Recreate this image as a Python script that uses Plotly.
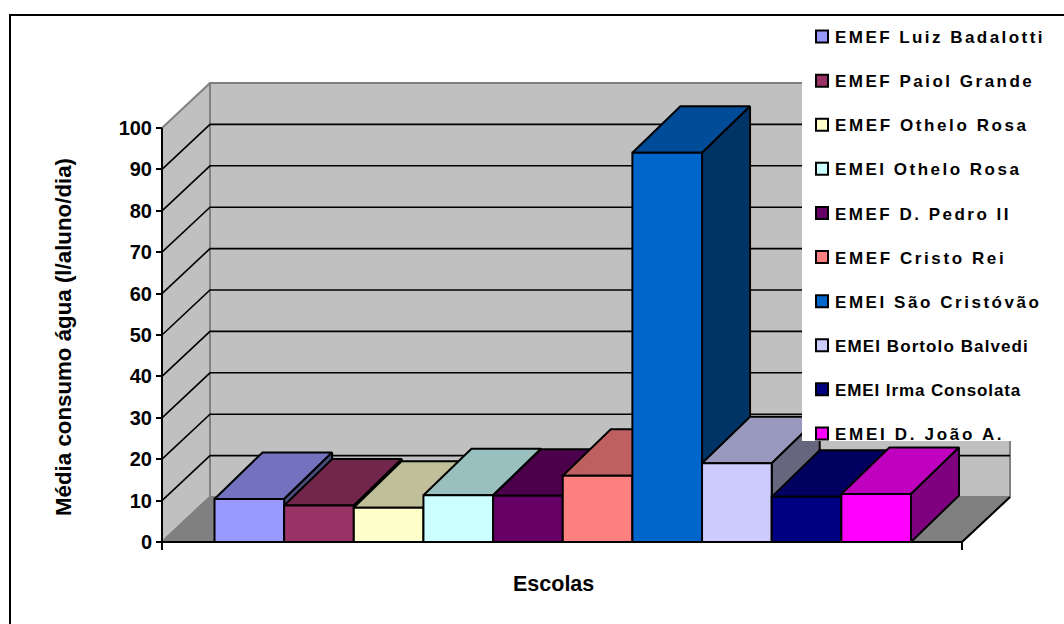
import plotly.graph_objects as go

escolas = ["EMEF Luiz Badalotti", "EMEF Paiol Grande", "EMEF Othelo Rosa", "EMEI Othelo Rosa",
           "EMEF D. Pedro II", "EMEF Cristo Rei", "EMEI São Cristóvão", "EMEI Bortolo Balvedi",
           "EMEI Irma Consolata", "EMEI D. João A."]
consumo = [10.4, 8.8, 8.3, 11.3, 11.2, 16.0, 94.0, 19.0, 10.9, 11.6]
cores = ["#9999FF", "#993366", "#FFFFCC", "#CCFFFF", "#660066", "#FF8080", "#0066CC", "#CCCCFF", "#000080", "#FF00FF"]
y_ticks = [0, 10, 20, 30, 40, 50, 60, 70, 80, 90, 100]

W, H = 1064, 624
PX_X0, PX_BAR = 214.5, 69.65      # pixel of first bar edge, bar width
PX_Y0, PX_UNIT = 542.0, 4.14      # pixel of value 0, pixels per value unit
x_range = [(0 - PX_X0) / PX_BAR, (W - PX_X0) / PX_BAR]
y_range = [(PX_Y0 - H) / PX_UNIT, PX_Y0 / PX_UNIT]

def X(px):
    return (px - PX_X0) / PX_BAR

AX_L, AX_R = X(162), X(962)       # front edge of floor
WALL_DX, WALL_DY = 48 / PX_BAR, 45 / PX_UNIT
BAR_DX, BAR_DY = 48 / PX_BAR, 46.5 / PX_UNIT

def shade(c, f):
    r, g, b = int(c[1:3], 16), int(c[3:5], 16), int(c[5:7], 16)
    return f"rgb({int(r*f)},{int(g*f)},{int(b*f)})"

def poly(xs, ys, fill, line="#000000", w=2):
    return go.Scatter(x=xs, y=ys, mode="lines", fill="toself", fillcolor=fill,
                      line=dict(color=line, width=w), showlegend=False, hoverinfo="skip")

def seg(xs, ys, color, w=2):
    return go.Scatter(x=xs, y=ys, mode="lines", line=dict(color=color, width=w),
                      showlegend=False, hoverinfo="skip")

fig = go.Figure()

# real bars carry the legend; the 3D faces below are drawn over them
for i, (n, v, c) in enumerate(zip(escolas, consumo, cores)):
    fig.add_trace(go.Bar(x=[i], y=[v], width=1, offset=0, name=n, legendgroup=n,
                         marker=dict(color=c, line=dict(color="#000000", width=2))))

top = y_ticks[-1]
bx0, bx1 = AX_L + WALL_DX, AX_R + WALL_DX
# walls and floor
fig.add_trace(poly([AX_L, bx0, bx0, AX_L, AX_L], [top, top + WALL_DY, WALL_DY, 0, top], "#C0C0C0", "#808080"))
fig.add_trace(poly([bx0, bx1, bx1, bx0, bx0], [WALL_DY, WALL_DY, top + WALL_DY, top + WALL_DY, WALL_DY], "#C0C0C0", "#808080"))
fig.add_trace(poly([AX_L, bx0, bx1, AX_R, AX_L], [0, WALL_DY, WALL_DY, 0, 0], "#808080", "#808080"))
# gridlines
for t in y_ticks[1:-1]:
    fig.add_trace(seg([AX_L, bx0, bx1], [t, t + WALL_DY, t + WALL_DY], "#000000", 1.6))
# axes
fig.add_trace(seg([AX_L, AX_L], [0, top], "#000000", 2))
fig.add_trace(seg([AX_L, AX_R, bx1], [0, 0, WALL_DY], "#000000", 2))

# 3D faces
for i, (v, c) in enumerate(zip(consumo, cores)):
    a, b = i, i + 1
    fig.add_trace(poly([a, a + BAR_DX, b + BAR_DX, b, a], [v, v + BAR_DY, v + BAR_DY, v, v], shade(c, 0.75)))
    fig.add_trace(poly([b, b + BAR_DX, b + BAR_DX, b, b], [0, BAR_DY, v + BAR_DY, v, 0], shade(c, 0.5)))
    fig.add_trace(poly([a, b, b, a, a], [0, 0, v, v, 0], c))

font = "Liberation Sans"
fig.update_layout(
    width=W, height=H, margin=dict(l=0, r=0, t=0, b=0), paper_bgcolor="#FFFFFF", plot_bgcolor="#FFFFFF",
    barmode="overlay", bargap=0, showlegend=True,
    font=dict(family=font, color="#000000"),
    xaxis=dict(range=x_range, domain=[0, 1], showgrid=False, zeroline=False, showline=False,
               tickmode="array", tickvals=[AX_L, AX_R], ticktext=["", ""], ticks="outside",
               ticklen=7, tickwidth=2, tickcolor="#000000", anchor="free",
               position=1 - PX_Y0 / H),
    yaxis=dict(range=y_range, domain=[0, 1], showgrid=False, zeroline=False, showline=False,
               tickmode="array", tickvals=y_ticks, ticks="outside", ticklen=6, tickwidth=2,
               tickcolor="#000000", anchor="free", position=162 / W,
               tickfont=dict(family=font, size=20, weight=700, color="#000000")),
    legend=dict(x=802 / W, y=1 - 19 / H, xanchor="left", yanchor="top", bgcolor="#FFFFFF",
                borderwidth=0, tracegroupgap=19, itemclick=False, itemdoubleclick=False,
                entrywidth=280, entrywidthmode="pixels", traceorder="grouped",
                font=dict(family=font, size=17, weight=700, color="#000000")),
    shapes=[
        dict(type="line", xref="paper", yref="paper", x0=9 / W, x1=1, y0=1 - 15 / H, y1=1 - 15 / H,
             line=dict(color="#000000", width=2), layer="above"),
        dict(type="line", xref="paper", yref="paper", x0=10 / W, x1=10 / W, y0=1 - 14 / H, y1=0,
             line=dict(color="#000000", width=2), layer="above"),
    ],
    annotations=[
        dict(text="Escolas", xref="paper", yref="paper", x=553.5 / W, y=1 - 584 / H, showarrow=False,
             xanchor="center", yanchor="middle",
             font=dict(family=font, size=21.5, weight=700, color="#000000")),
        dict(text="Média consumo água (l/aluno/dia)", xref="paper", yref="paper", x=63 / W, y=1 - 337 / H,
             xanchor="center", yanchor="middle",
             showarrow=False, textangle=-90, font=dict(family=font, size=22.3, weight=700, color="#000000")),
    ],
)

post = """
document.body.style.margin='0';
var sp=[2.45,2.5,2.6,2.5,2.5,2.6,2.55,1.1,0.9,2.7];
document.querySelectorAll('.legendtext').forEach(function(t,i){t.style.letterSpacing=sp[i]+'px';t.setAttribute('x','33');});
document.querySelectorAll('.legend .legendbar').forEach(function(p){p.setAttribute('d','M4.5,4.5H-4.5V-4.5H4.5Z');p.style.strokeWidth='1.6px';});
document.querySelectorAll('.legend .scrollbox').forEach(function(s){s.removeAttribute('clip-path');});
document.querySelectorAll('.legend .bg').forEach(function(b){b.setAttribute('width','254');b.setAttribute('height','422');});
"""
fig.write_html("out.html", post_script=post, config={"displayModeBar": False})
